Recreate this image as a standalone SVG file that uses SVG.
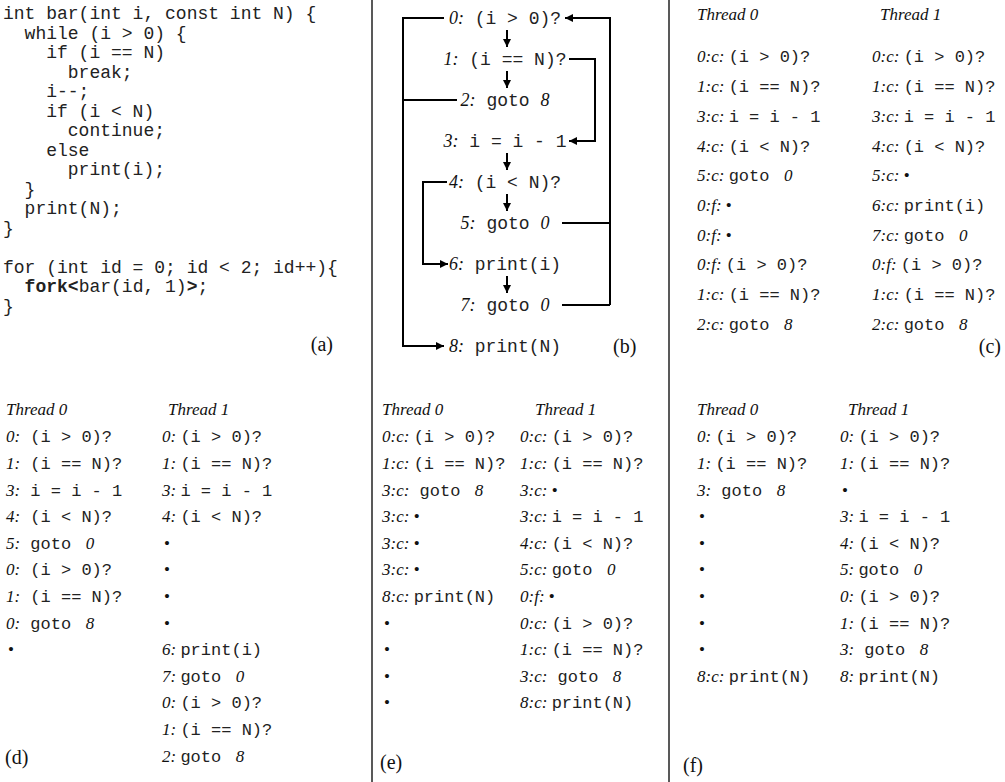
<svg xmlns="http://www.w3.org/2000/svg" width="1005" height="782" viewBox="0 0 1005 782">
<style>
text { white-space: pre; fill: #111; }
.m { font-family: "Liberation Mono", "Courier New", monospace; font-size: 17px; fill: #222; }
.l { font-family: "Liberation Serif", "Times New Roman", serif; font-style: italic; font-size: 17px; }
.b { font-family: "Liberation Serif", "Times New Roman", serif; font-size: 17px; }
.t { font-family: "Liberation Serif", "Times New Roman", serif; font-size: 17px; }
.cap { font-family: "Liberation Serif", "Times New Roman", serif; font-size: 20px; }
.code { font-family: "Liberation Mono", "Courier New", monospace; font-size: 18px; fill: #222; }
.bm { font-family: "Liberation Mono", "Courier New", monospace; font-size: 18px; fill: #222; }
.bl { font-family: "Liberation Serif", "Times New Roman", serif; font-style: italic; font-size: 18px; }
.bt { font-family: "Liberation Serif", "Times New Roman", serif; font-size: 18px; }
.div { stroke: #222; stroke-width: 1.5; }
.cn { fill: none; stroke: #000; stroke-width: 2; }
</style>
<defs>
<marker id="ah" viewBox="0 0 10 10" refX="10" refY="5" markerWidth="9" markerHeight="8" markerUnits="userSpaceOnUse" orient="auto">
<path d="M0,0 L10,5 L0,10 z" fill="#000"/>
</marker>
</defs>

<g id="dividers">
<line class="div" x1="372" y1="0" x2="372" y2="782"/>
<line class="div" x1="669" y1="0" x2="669" y2="782"/>
</g>

<g id="panel-a">
<text class="code" x="3" y="19">int bar(int i, const int N) {</text>
<text class="code" x="3" y="38.5">  while (i &gt; 0) {</text>
<text class="code" x="3" y="58">    if (i == N)</text>
<text class="code" x="3" y="77.5">      break;</text>
<text class="code" x="3" y="97">    i--;</text>
<text class="code" x="3" y="116.5">    if (i &lt; N)</text>
<text class="code" x="3" y="136">      continue;</text>
<text class="code" x="3" y="155.5">    else</text>
<text class="code" x="3" y="175">      print(i);</text>
<text class="code" x="3" y="194.5">  }</text>
<text class="code" x="3" y="214">  print(N);</text>
<text class="code" x="3" y="233.5">}</text>
<text class="code" x="3" y="272.5">for (int id = 0; id &lt; 2; id++){</text>
<text class="code" x="3" y="292"><tspan font-weight="bold">  fork&lt;</tspan>bar(id, 1)<tspan font-weight="bold">&gt;</tspan>;</text>
<text class="code" x="3" y="311.5">}</text>
<text class="cap" x="333" y="351" text-anchor="end">(a)</text>
</g>

<g id="panel-b">
<g id="b-n0"><text class="bt" x="505" y="24" text-anchor="middle"><tspan class="bl">0:</tspan><tspan class="bm"> (i &gt; 0)?</tspan></text></g>
<g id="b-n1"><text class="bt" x="505" y="65" text-anchor="middle"><tspan class="bl">1:</tspan><tspan class="bm"> (i == N)?</tspan></text></g>
<g id="b-n2"><text class="bt" x="505" y="106" text-anchor="middle"><tspan class="bl">2:</tspan><tspan class="bm"> goto </tspan><tspan class="bl">8</tspan></text></g>
<g id="b-n3"><text class="bt" x="505" y="147" text-anchor="middle"><tspan class="bl">3:</tspan><tspan class="bm"> i = i - 1</tspan></text></g>
<g id="b-n4"><text class="bt" x="505" y="188" text-anchor="middle"><tspan class="bl">4:</tspan><tspan class="bm"> (i &lt; N)?</tspan></text></g>
<g id="b-n5"><text class="bt" x="505" y="229" text-anchor="middle"><tspan class="bl">5:</tspan><tspan class="bm"> goto </tspan><tspan class="bl">0</tspan></text></g>
<g id="b-n6"><text class="bt" x="505" y="270" text-anchor="middle"><tspan class="bl">6:</tspan><tspan class="bm"> print(i)</tspan></text></g>
<g id="b-n7"><text class="bt" x="505" y="311" text-anchor="middle"><tspan class="bl">7:</tspan><tspan class="bm"> goto </tspan><tspan class="bl">0</tspan></text></g>
<g id="b-n8"><text class="bt" x="505" y="352" text-anchor="middle"><tspan class="bl">8:</tspan><tspan class="bm"> print(N)</tspan></text></g>
<text class="cap" x="613" y="353">(b)</text>
</g>

<g id="connectors">
<line class="cn" x1="507" y1="30" x2="507" y2="47" marker-end="url(#ah)"/>
<line class="cn" x1="507" y1="71" x2="507" y2="88" marker-end="url(#ah)"/>
<line class="cn" x1="507" y1="153" x2="507" y2="170" marker-end="url(#ah)"/>
<line class="cn" x1="507" y1="194" x2="507" y2="211" marker-end="url(#ah)"/>
<line class="cn" x1="507" y1="276" x2="507" y2="293" marker-end="url(#ah)"/>
<polyline class="cn" points="444,18 403,18 403,346 444,346" marker-end="url(#ah)"/>
<polyline class="cn" points="457,100 403,100"/>
<polyline class="cn" points="610,305 610,18 565,18" marker-end="url(#ah)"/>
<polyline class="cn" points="562,223 610,223"/>
<polyline class="cn" points="562,305 610,305"/>
<polyline class="cn" points="569,59 595,59 595,141 569,141" marker-end="url(#ah)"/>
<polyline class="cn" points="447,182 423,182 423,264 448,264" marker-end="url(#ah)"/>
</g>

<g id="panel-c">
<text class="l" x="697" y="20">Thread 0</text>
<text class="l" x="880" y="20">Thread 1</text>
<text class="t" x="697" y="62"><tspan class="l">0:c: </tspan><tspan class="m">(i &gt; 0)?</tspan></text>
<text class="t" x="697" y="92"><tspan class="l">1:c: </tspan><tspan class="m">(i == N)?</tspan></text>
<text class="t" x="697" y="122"><tspan class="l">3:c: </tspan><tspan class="m">i = i - 1</tspan></text>
<text class="t" x="697" y="152"><tspan class="l">4:c: </tspan><tspan class="m">(i &lt; N)?</tspan></text>
<text class="t" x="697" y="181"><tspan class="l">5:c: </tspan><tspan class="m">goto </tspan><tspan class="l"> 0</tspan></text>
<text class="t" x="697" y="211"><tspan class="l">0:f: </tspan><tspan class="b">•</tspan></text>
<text class="t" x="697" y="241"><tspan class="l">0:f: </tspan><tspan class="b">•</tspan></text>
<text class="t" x="697" y="270"><tspan class="l">0:f: </tspan><tspan class="m">(i &gt; 0)?</tspan></text>
<text class="t" x="697" y="300"><tspan class="l">1:c: </tspan><tspan class="m">(i == N)?</tspan></text>
<text class="t" x="697" y="330"><tspan class="l">2:c: </tspan><tspan class="m">goto </tspan><tspan class="l"> 8</tspan></text>
<text class="t" x="872" y="62"><tspan class="l">0:c: </tspan><tspan class="m">(i &gt; 0)?</tspan></text>
<text class="t" x="872" y="92"><tspan class="l">1:c: </tspan><tspan class="m">(i == N)?</tspan></text>
<text class="t" x="872" y="122"><tspan class="l">3:c: </tspan><tspan class="m">i = i - 1</tspan></text>
<text class="t" x="872" y="152"><tspan class="l">4:c: </tspan><tspan class="m">(i &lt; N)?</tspan></text>
<text class="t" x="872" y="181"><tspan class="l">5:c: </tspan><tspan class="b">•</tspan></text>
<text class="t" x="872" y="211"><tspan class="l">6:c: </tspan><tspan class="m">print(i)</tspan></text>
<text class="t" x="872" y="241"><tspan class="l">7:c: </tspan><tspan class="m">goto </tspan><tspan class="l"> 0</tspan></text>
<text class="t" x="872" y="270"><tspan class="l">0:f: </tspan><tspan class="m">(i &gt; 0)?</tspan></text>
<text class="t" x="872" y="300"><tspan class="l">1:c: </tspan><tspan class="m">(i == N)?</tspan></text>
<text class="t" x="872" y="330"><tspan class="l">2:c: </tspan><tspan class="m">goto </tspan><tspan class="l"> 8</tspan></text>
<text class="cap" x="1001" y="353" text-anchor="end">(c)</text>
</g>

<g id="panel-d">
<text class="l" x="6" y="415">Thread 0</text>
<text class="l" x="168" y="415">Thread 1</text>
<text class="t" x="6" y="442"><tspan class="l">0:</tspan><tspan class="m"> (i &gt; 0)?</tspan></text>
<text class="t" x="6" y="469"><tspan class="l">1:</tspan><tspan class="m"> (i == N)?</tspan></text>
<text class="t" x="6" y="496"><tspan class="l">3:</tspan><tspan class="m"> i = i - 1</tspan></text>
<text class="t" x="6" y="522"><tspan class="l">4:</tspan><tspan class="m"> (i &lt; N)?</tspan></text>
<text class="t" x="6" y="549"><tspan class="l">5:</tspan><tspan class="m"> goto </tspan><tspan class="l"> 0</tspan></text>
<text class="t" x="6" y="575"><tspan class="l">0:</tspan><tspan class="m"> (i &gt; 0)?</tspan></text>
<text class="t" x="6" y="602"><tspan class="l">1:</tspan><tspan class="m"> (i == N)?</tspan></text>
<text class="t" x="6" y="629"><tspan class="l">0:</tspan><tspan class="m"> goto </tspan><tspan class="l"> 8</tspan></text>
<text class="b" x="8" y="655">•</text>
<text class="t" x="162" y="442"><tspan class="l">0: </tspan><tspan class="m">(i &gt; 0)?</tspan></text>
<text class="t" x="162" y="469"><tspan class="l">1: </tspan><tspan class="m">(i == N)?</tspan></text>
<text class="t" x="162" y="496"><tspan class="l">3: </tspan><tspan class="m">i = i - 1</tspan></text>
<text class="t" x="162" y="522"><tspan class="l">4: </tspan><tspan class="m">(i &lt; N)?</tspan></text>
<text class="b" x="164" y="549">•</text>
<text class="b" x="164" y="575">•</text>
<text class="b" x="164" y="602">•</text>
<text class="b" x="164" y="629">•</text>
<text class="t" x="162" y="655"><tspan class="l">6: </tspan><tspan class="m">print(i)</tspan></text>
<text class="t" x="162" y="682"><tspan class="l">7: </tspan><tspan class="m">goto </tspan><tspan class="l"> 0</tspan></text>
<text class="t" x="162" y="708"><tspan class="l">0: </tspan><tspan class="m">(i &gt; 0)?</tspan></text>
<text class="t" x="162" y="735"><tspan class="l">1: </tspan><tspan class="m">(i == N)?</tspan></text>
<text class="t" x="162" y="762"><tspan class="l">2: </tspan><tspan class="m">goto </tspan><tspan class="l"> 8</tspan></text>
<text class="cap" x="5" y="764">(d)</text>
</g>

<g id="panel-e">
<text class="l" x="382" y="415">Thread 0</text>
<text class="l" x="535" y="415">Thread 1</text>
<text class="t" x="382" y="442"><tspan class="l">0:c: </tspan><tspan class="m">(i &gt; 0)?</tspan></text>
<text class="t" x="382" y="469"><tspan class="l">1:c: </tspan><tspan class="m">(i == N)?</tspan></text>
<text class="t" x="382" y="496"><tspan class="l">3:c:</tspan><tspan class="m"> goto </tspan><tspan class="l"> 8</tspan></text>
<text class="t" x="382" y="522"><tspan class="l">3:c: </tspan><tspan class="b">•</tspan></text>
<text class="t" x="382" y="549"><tspan class="l">3:c: </tspan><tspan class="b">•</tspan></text>
<text class="t" x="382" y="575"><tspan class="l">3:c: </tspan><tspan class="b">•</tspan></text>
<text class="t" x="382" y="602"><tspan class="l">8:c: </tspan><tspan class="m">print(N)</tspan></text>
<text class="b" x="384" y="629">•</text>
<text class="b" x="384" y="655">•</text>
<text class="b" x="384" y="682">•</text>
<text class="b" x="384" y="708">•</text>
<text class="t" x="520" y="442"><tspan class="l">0:c: </tspan><tspan class="m">(i &gt; 0)?</tspan></text>
<text class="t" x="520" y="469"><tspan class="l">1:c: </tspan><tspan class="m">(i == N)?</tspan></text>
<text class="t" x="520" y="496"><tspan class="l">3:c: </tspan><tspan class="b">•</tspan></text>
<text class="t" x="520" y="522"><tspan class="l">3:c: </tspan><tspan class="m">i = i - 1</tspan></text>
<text class="t" x="520" y="549"><tspan class="l">4:c: </tspan><tspan class="m">(i &lt; N)?</tspan></text>
<text class="t" x="520" y="575"><tspan class="l">5:c: </tspan><tspan class="m">goto </tspan><tspan class="l"> 0</tspan></text>
<text class="t" x="520" y="602"><tspan class="l">0:f: </tspan><tspan class="b">•</tspan></text>
<text class="t" x="520" y="629"><tspan class="l">0:c: </tspan><tspan class="m">(i &gt; 0)?</tspan></text>
<text class="t" x="520" y="655"><tspan class="l">1:c: </tspan><tspan class="m">(i == N)?</tspan></text>
<text class="t" x="520" y="682"><tspan class="l">3:c:</tspan><tspan class="m"> goto </tspan><tspan class="l"> 8</tspan></text>
<text class="t" x="520" y="708"><tspan class="l">8:c: </tspan><tspan class="m">print(N)</tspan></text>
<text class="cap" x="380" y="769">(e)</text>
</g>

<g id="panel-f">
<text class="l" x="697" y="415">Thread 0</text>
<text class="l" x="848" y="415">Thread 1</text>
<text class="t" x="697" y="442"><tspan class="l">0: </tspan><tspan class="m">(i &gt; 0)?</tspan></text>
<text class="t" x="697" y="469"><tspan class="l">1: </tspan><tspan class="m">(i == N)?</tspan></text>
<text class="t" x="697" y="496"><tspan class="l">3:</tspan><tspan class="m"> goto </tspan><tspan class="l"> 8</tspan></text>
<text class="b" x="699" y="522">•</text>
<text class="b" x="699" y="549">•</text>
<text class="b" x="699" y="575">•</text>
<text class="b" x="699" y="602">•</text>
<text class="b" x="699" y="629">•</text>
<text class="b" x="699" y="655">•</text>
<text class="t" x="697" y="682"><tspan class="l">8:c: </tspan><tspan class="m">print(N)</tspan></text>
<text class="t" x="840" y="442"><tspan class="l">0: </tspan><tspan class="m">(i &gt; 0)?</tspan></text>
<text class="t" x="840" y="469"><tspan class="l">1: </tspan><tspan class="m">(i == N)?</tspan></text>
<text class="b" x="842" y="496">•</text>
<text class="t" x="840" y="522"><tspan class="l">3: </tspan><tspan class="m">i = i - 1</tspan></text>
<text class="t" x="840" y="549"><tspan class="l">4: </tspan><tspan class="m">(i &lt; N)?</tspan></text>
<text class="t" x="840" y="575"><tspan class="l">5: </tspan><tspan class="m">goto </tspan><tspan class="l"> 0</tspan></text>
<text class="t" x="840" y="602"><tspan class="l">0: </tspan><tspan class="m">(i &gt; 0)?</tspan></text>
<text class="t" x="840" y="629"><tspan class="l">1: </tspan><tspan class="m">(i == N)?</tspan></text>
<text class="t" x="840" y="655"><tspan class="l">3:</tspan><tspan class="m"> goto </tspan><tspan class="l"> 8</tspan></text>
<text class="t" x="840" y="682"><tspan class="l">8: </tspan><tspan class="m">print(N)</tspan></text>
<text class="cap" x="683" y="772">(f)</text>
</g>
</svg>
